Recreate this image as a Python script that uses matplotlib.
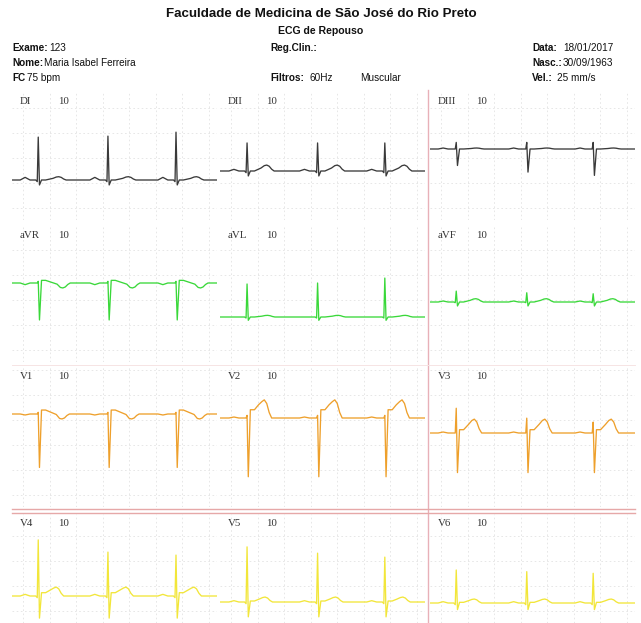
import numpy as np
import matplotlib
matplotlib.use("Agg")
import matplotlib.pyplot as plt

# ---------------- data ----------------
LEADS = ["DI", "DII", "DIII", "aVR", "aVL", "aVF", "V1", "V2", "V3", "V4", "V5", "V6"]
GAIN_LABEL = "10"
# R-peak times (s) per column of the layout
BEAT_TIMES = [[0.32, 1.17, 2.00], [0.33, 1.19, 2.01], [0.32, 1.18, 1.99]]
# amplitudes in mV, per lead, per beat
R_AMP = [[1.30, 1.33, 1.45], [0.85, 0.85, 0.85], [0.20, 0.20, 0.20],
         [0.05, 0.05, 0.05], [1.00, 1.03, 1.18], [0.33, 0.28, 0.25],
         [0.05, 0.05, 0.05], [0.08, 0.08, 0.08], [0.75, 0.45, 0.33],
         [1.70, 1.33, 1.24], [1.67, 1.48, 1.36], [1.00, 0.95, 0.90]]
S_AMP = [[-0.15, -0.15, -0.15], [-0.15, -0.15, -0.15], [-0.50, -0.70, -0.80],
         [-1.12, -1.12, -1.12], [-0.10, -0.10, -0.10], [-0.12, -0.12, -0.12],
         [-1.62, -1.62, -1.62], [-1.78, -1.78, -1.78], [-1.20, -1.20, -1.20],
         [-0.67, -0.67, -0.67], [-0.45, -0.45, -0.45], [-0.20, -0.20, -0.20]]
Q_AMP = [-0.05, -0.05, 0.0, 0.0, -0.03, -0.02, 0.0, 0.0, 0.0, -0.05, -0.05, -0.05]
P_AMP = [0.08, 0.05, 0.03, -0.05, 0.0, 0.03, -0.03, 0.03, 0.03, 0.05, 0.04, 0.04]
ST_AMP = [0.0, 0.0, 0.0, 0.08, 0.0, 0.0, 0.12, 0.25, 0.10, 0.10, 0.03, 0.02]
T_AMP = [0.10, 0.18, 0.03, -0.15, 0.05, 0.10, -0.15, 0.55, 0.42, 0.27, 0.15, 0.12]
T_TIME = [0.25, 0.24, 0.25, 0.30, 0.25, 0.24, 0.29, 0.21, 0.22, 0.22, 0.22, 0.22]

# ---------------- layout (pixels) ----------------
W, H = 641, 623
DPI = 100
COL_X = [(12, 217), (220, 425), (430, 635)]
ROW_Y = [(92, 220), (226, 362), (366, 507), (514, 623)]
BASELINE_Y = [180, 171, 149, 283, 317, 302, 414, 418, 433, 596, 602, 603]
PX_PER_MV = 33.0
DURATION = 2.5
ROW_COLORS = ["#3a3a3a", "#3ad83a", "#eea02c", "#f2e63a"]

fig = plt.figure(figsize=(W / DPI, H / DPI), dpi=DPI)
fig.patch.set_facecolor("white")

bg = fig.add_axes([0, 0, 1, 1])
bg.set_xlim(0, W)
bg.set_ylim(H, 0)
bg.axis("off")

SANS = "Liberation Sans"
bg.text(321, 14, "Faculdade de Medicina de São José do Rio Preto", ha="center", va="center",
        fontsize=9.6, fontweight="bold", family=SANS, color="#111")
bg.text(321, 31, "ECG de Repouso", ha="center", va="center",
        fontsize=7.6, fontweight="bold", family=SANS, color="#111")

hdr = [
    (12, 48, "Exame:", True), (49, 48, "123", False),
    (12, 63, "Nome:", True), (44, 63, "Maria Isabel Ferreira", False),
    (12, 78, "FC", True), (27, 78, "75 bpm", False),
    (270, 48, "Reg.Clin.:", True),
    (270, 78, "Filtros:", True), (310, 78, "60Hz", False), (360, 78, "Muscular", False),
    (532, 48, "Data:", True), (563, 48, "18/01/2017", False),
    (532, 63, "Nasc.:", True), (563, 63, "30/09/1963", False),
    (532, 78, "Vel.:", True), (557, 78, "25 mm/s", False),
]
for x, y, s, b in hdr:
    bg.text(x, y, s, ha="left", va="center", fontsize=7.2, family=SANS,
            fontweight="bold" if b else "normal", color="#111")

# separators
bg.plot([428, 428], [90, 623], color="#e8b0b8", lw=1.0)
bg.plot([12, 635], [509, 509], color="#e6a8a8", lw=1.0)
bg.plot([12, 635], [512.5, 512.5], color="#e6a8a8", lw=1.0)
bg.plot([12, 635], [365, 365], color="#f6e4e4", lw=0.7)


def beat_knots(tR, p, q, r, s, st, t, tt):
    pts = [
        (tR - 0.22, 0.0), (tR - 0.19, 0.5 * p), (tR - 0.16, p), (tR - 0.13, 0.5 * p),
        (tR - 0.10, 0.0), (tR - 0.03, 0.0), (tR - 0.012, q), (tR, r),
        (tR + 0.015, s), (tR + 0.04, st), (tR + 0.09, st),
        (tR + tt - 0.07, 0.5 * (st + t)), (tR + tt - 0.03, 0.9 * t), (tR + tt, t),
        (tR + tt + 0.03, 0.8 * t), (tR + tt + 0.06, 0.3 * t), (tR + tt + 0.09, 0.0),
    ]
    return pts


for i, lead in enumerate(LEADS):
    row, col = divmod(i, 3)
    x0, x1 = COL_X[col]
    y0, y1 = ROW_Y[row]
    ax = fig.add_axes([x0 / W, 1 - y1 / H, (x1 - x0) / W, (y1 - y0) / H])
    yb = BASELINE_Y[i]
    ax.set_xlim(0, DURATION)
    ax.set_ylim(-(y1 - yb) / PX_PER_MV, (yb - y0) / PX_PER_MV)
    ax.axis("off")
    ax.patch.set_alpha(0)

    # faint dotted grid
    px_per_s = (x1 - x0) / DURATION
    for gx in np.arange(11, x1 - x0, 26.5):
        ax.axvline(gx / px_per_s, color="#e3e3e3", lw=0.6, ls=(0, (2, 3)), zorder=0)
    gy_start = -(y1 - yb) / PX_PER_MV
    for gy in np.arange(gy_start + 0.35, (yb - y0) / PX_PER_MV, 25 / PX_PER_MV):
        ax.axhline(gy, color="#e3e3e3", lw=0.6, ls=(0, (2, 3)), zorder=0)

    pts = [(0.0, 0.0)]
    for b, tR in enumerate(BEAT_TIMES[col]):
        pts += beat_knots(tR, P_AMP[i], Q_AMP[i], R_AMP[i][b], S_AMP[i][b],
                          ST_AMP[i], T_AMP[i], T_TIME[i])
    pts.append((DURATION, 0.0))
    pts.sort(key=lambda p: p[0])
    tx = [p[0] for p in pts if 0 <= p[0] <= DURATION]
    ty = [p[1] for p in pts if 0 <= p[0] <= DURATION]
    ax.plot(tx, ty, color=ROW_COLORS[row], lw=0.95, zorder=3, solid_joinstyle="round")

    # labels
    ax.text(8 / px_per_s, (yb - (y0 + 10)) / PX_PER_MV, lead, ha="left", va="center",
            fontsize=7.8, family="Liberation Serif", color="#333")
    ax.text(46 / px_per_s, (yb - (y0 + 10)) / PX_PER_MV, GAIN_LABEL, ha="left", va="center",
            fontsize=7.8, family="Liberation Serif", color="#333")

fig.savefig("out.png", dpi=DPI, facecolor="white")
